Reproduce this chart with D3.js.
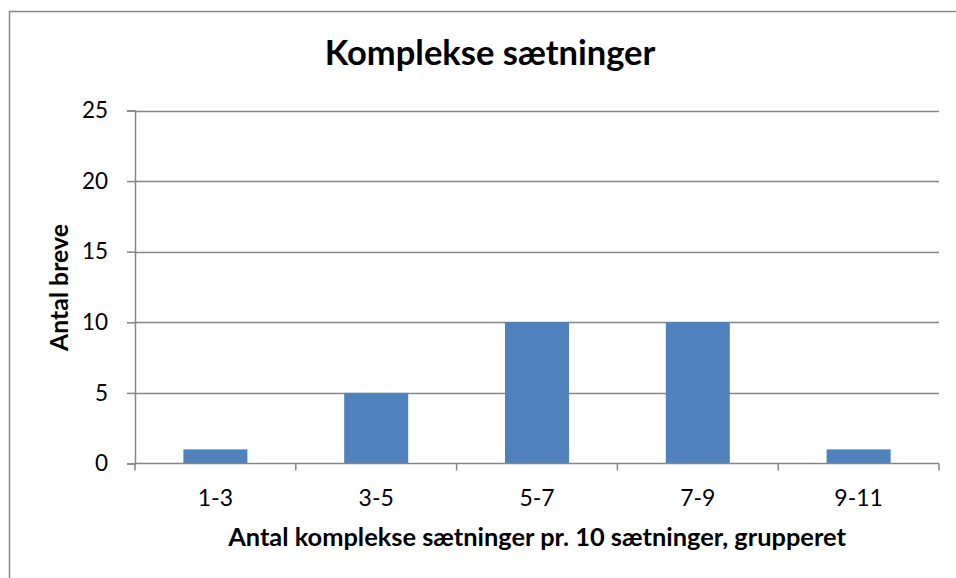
<!DOCTYPE html>
<html>
<head>
<meta charset="utf-8">
<script src="https://cdn.jsdelivr.net/npm/d3@7"></script>
<style>
  html, body { margin: 0; padding: 0; background: #fff; }
  svg { display: block; font-family: Lato, "Open Sans", sans-serif; }
</style>
</head>
<body>
<svg id="chart" width="956" height="578"></svg>
<script>
const categories = ["1-3", "3-5", "5-7", "7-9", "9-11"];
const values = [1, 5, 10, 10, 1];
const yTicks = [0, 5, 10, 15, 20, 25];
const title = "Komplekse sætninger";
const xTitle = "Antal komplekse sætninger pr. 10 sætninger, grupperet";
const yTitle = "Antal breve";

const svg = d3.select("#chart");
const plot = { left: 135, right: 939, top: 110.5, bottom: 463.5 };

// outer chart border (right/bottom edges cropped in reference)
svg.append("rect")
  .attr("x", 9.5).attr("y", 11.5)
  .attr("width", 980).attr("height", 600)
  .attr("fill", "#fff").attr("stroke", "#868686").attr("stroke-width", 1.5);

const x = d3.scaleBand().domain(categories).range([plot.left, plot.right]).paddingInner(0).paddingOuter(0);
const y = d3.scaleLinear().domain([0, 25]).range([plot.bottom, plot.top]);

// gridlines
svg.append("g")
  .selectAll("line")
  .data(yTicks.filter(d => d > 0))
  .join("line")
  .attr("x1", plot.left).attr("x2", plot.right)
  .attr("y1", d => Math.round(y(d)) + 0.5).attr("y2", d => Math.round(y(d)) + 0.5)
  .attr("stroke", "#868686").attr("stroke-width", 1.5);

// bars
const barFrac = 0.398;
svg.append("g")
  .selectAll("rect")
  .data(categories.map((c, i) => ({ c, v: values[i] })))
  .join("rect")
  .attr("x", d => x(d.c) + x.bandwidth() * (1 - barFrac) / 2)
  .attr("width", x.bandwidth() * barFrac)
  .attr("y", d => y(d.v))
  .attr("height", d => y(0) - y(d.v))
  .attr("fill", "#4F81BD");

// y axis
const yAxis = d3.axisLeft(y).tickValues(yTicks).tickSize(8).tickPadding(19).tickFormat(d3.format("d"));
const gy = svg.append("g").attr("transform", `translate(${plot.left},0)`).call(yAxis);
gy.select(".domain").attr("stroke", "#868686").attr("stroke-width", 1.5);
gy.selectAll(".tick line").attr("stroke", "#868686").attr("stroke-width", 1.5);
gy.selectAll(".tick text").attr("font-size", 22.5).attr("fill", "#000").attr("font-family", "Lato");

// x axis: ticks at category boundaries
const gx = svg.append("g").attr("transform", `translate(0,${plot.bottom})`);
gx.append("line").attr("x1", plot.left).attr("x2", plot.right).attr("y1", 0).attr("y2", 0)
  .attr("stroke", "#868686").attr("stroke-width", 1.5);
const bounds = categories.map(c => x(c)).concat([x(categories[categories.length - 1]) + x.bandwidth()]);
gx.selectAll("line.tk").data(bounds).join("line").attr("class", "tk")
  .attr("x1", d => d).attr("x2", d => d).attr("y1", 0).attr("y2", 7)
  .attr("stroke", "#868686").attr("stroke-width", 1.5);
gx.selectAll("text").data(categories).join("text")
  .attr("x", d => x(d) + x.bandwidth() / 2)
  .attr("y", 42)
  .attr("text-anchor", "middle")
  .attr("font-size", 23)
  .attr("fill", "#000")
  .text(d => d);

// titles
svg.append("text")
  .attr("x", 490).attr("y", 65)
  .attr("text-anchor", "middle").attr("font-size", 34.5).attr("font-weight", "bold")
  .attr("fill", "#000").text(title);

svg.append("text")
  .attr("x", (plot.left + plot.right) / 2).attr("y", 546)
  .attr("text-anchor", "middle").attr("font-size", 25.4).attr("font-weight", "bold")
  .attr("fill", "#000").text(xTitle);

svg.append("text")
  .attr("transform", `translate(68,287.5) rotate(-90)`)
  .attr("text-anchor", "middle").attr("font-size", 24.8).attr("font-weight", "bold")
  .attr("fill", "#000").text(yTitle);
</script>
</body>
</html>
